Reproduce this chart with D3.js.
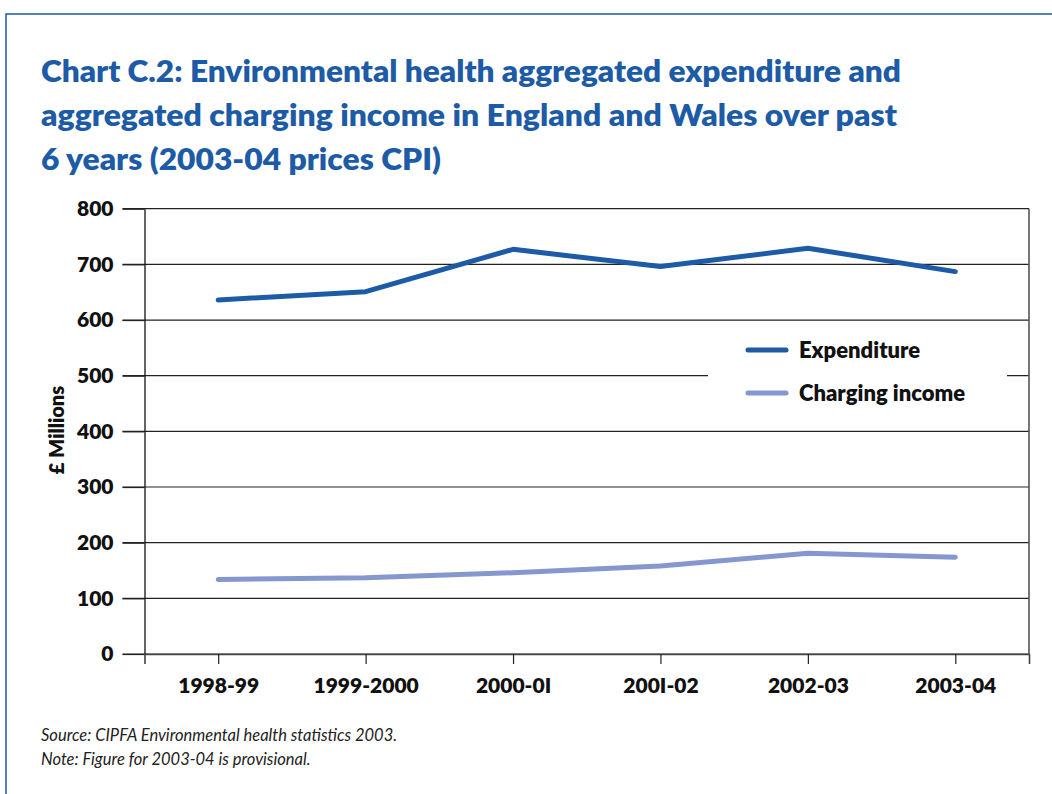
<!DOCTYPE html>
<html lang="en">
<head>
<meta charset="utf-8" />
<title>Chart C.2</title>
<style>
  body { margin: 0; background: #fff; }
  svg text { font-family: Lato, "Open Sans", sans-serif; }
</style>
</head>
<body>
<svg id="chart" width="1052" height="794"></svg>
<script src="https://cdn.jsdelivr.net/npm/d3@7/dist/d3.min.js"></script>
<script>
// Data
var years = ["1998-99", "1999-2000", "2000-01", "2001-02", "2002-03", "2003-04"];
var yearLabels = ["1998-99", "1999-2000", "2000-0I", "200I-02", "2002-03", "2003-04"];
var expenditure = [636, 651, 727, 696, 729, 687];
var chargingIncome = [134, 137, 146, 158, 181, 174];
var yTicks = [0, 100, 200, 300, 400, 500, 600, 700, 800];
var seriesNames = ["Expenditure", "Charging income"];

var titleLines = [
  "Chart C.2: Environmental health aggregated expenditure and",
  "aggregated charging income in England and Wales over past",
  "6 years (2003-04 prices CPI)"
];
var titleWidths = [860, 856, 400];
var notes = [
  "Source: CIPFA Environmental health statistics 2003.",
  "Note: Figure for 2003-04 is provisional."
];

var blue = "#1d5ba6", lightBlue = "#8497cf";

var svg = d3.select("#chart");

// outer frame (top and left edges)
svg.append("path")
  .attr("d", "M6,794 V14 H1052")
  .attr("fill", "none")
  .attr("stroke", blue)
  .attr("stroke-width", 1.5);

// title
svg.selectAll("text.title")
  .data(titleLines)
  .enter().append("text")
  .attr("class", "title")
  .attr("x", 41)
  .attr("y", function(d, i) { return 82 + i * 44; })
  .attr("fill", blue)
  .attr("font-size", 30)
  .attr("font-weight", 800)
  .text(function(d) { return d; })
  .each(function(d, i) {
    var w = this.getComputedTextLength();
    if (Math.abs(w - titleWidths[i]) > 4) {
      d3.select(this).attr("textLength", titleWidths[i]).attr("lengthAdjust", "spacingAndGlyphs");
    }
  });

var plotLeft = 144.5, plotRight = 1029, plotTop = 208.7, plotBottom = 654;

var x = d3.scalePoint().domain(years).range([plotLeft, plotRight]).padding(0.5);
var y = d3.scaleLinear().domain([0, 800]).range([plotBottom, plotTop]);

// gridlines
svg.append("g")
  .selectAll("line")
  .data(yTicks)
  .enter().append("line")
  .attr("x1", plotLeft - 22)
  .attr("x2", plotRight)
  .attr("y1", function(d) { return y(d); })
  .attr("y2", function(d) { return y(d); })
  .attr("stroke", "#222")
  .attr("stroke-width", 1.2);

// right edge of plot
svg.append("line")
  .attr("x1", plotRight).attr("x2", plotRight)
  .attr("y1", plotTop).attr("y2", plotBottom)
  .attr("stroke", "#555").attr("stroke-width", 1.6);

// y axis
var yAxis = svg.append("g")
  .attr("transform", "translate(" + plotLeft + ",0)")
  .call(d3.axisLeft(y).tickValues(yTicks).tickSize(22).tickPadding(9).tickSizeOuter(0));
yAxis.selectAll("line").attr("stroke", "#222").attr("stroke-width", 1.2);
yAxis.select(".domain").attr("stroke", "#111").attr("stroke-width", 1.3);
yAxis.selectAll("text")
  .attr("font-size", 21).attr("font-weight", 800).attr("fill", "#111")
  .style("font-family", "Lato, sans-serif");

// x axis
var xAxis = svg.append("g")
  .attr("transform", "translate(0," + plotBottom + ")")
  .call(d3.axisBottom(x).tickSize(10).tickSizeOuter(10).tickPadding(14)
    .tickFormat(function(d, i) { return yearLabels[i]; }));
xAxis.selectAll("line").attr("stroke", "#222").attr("stroke-width", 1.2);
xAxis.select(".domain").attr("stroke", "#444").attr("stroke-width", 1.6);
xAxis.selectAll("text")
  .attr("font-size", 21).attr("font-weight", 800).attr("fill", "#111")
  .style("font-family", "Lato, sans-serif");

// y axis title
svg.append("text")
  .attr("transform", "translate(64,430) rotate(-90)")
  .attr("text-anchor", "middle")
  .attr("font-size", 20)
  .attr("font-weight", 800)
  .attr("fill", "#111")
  .text("£ Millions");

// lines
var line = d3.line()
  .x(function(d, i) { return x(years[i]); })
  .y(function(d) { return y(d); });

svg.append("path")
  .datum(chargingIncome)
  .attr("d", line)
  .attr("fill", "none")
  .attr("stroke", lightBlue)
  .attr("stroke-width", 5)
  .attr("stroke-linecap", "round")
  .attr("stroke-linejoin", "round");

svg.append("path")
  .datum(expenditure)
  .attr("d", line)
  .attr("fill", "none")
  .attr("stroke", blue)
  .attr("stroke-width", 5)
  .attr("stroke-linecap", "round")
  .attr("stroke-linejoin", "round");

// legend
var legend = svg.append("g");
legend.append("rect")
  .attr("x", 708).attr("y", 326).attr("width", 299).attr("height", 100)
  .attr("fill", "#fff");
var items = legend.selectAll("g.item")
  .data(seriesNames)
  .enter().append("g")
  .attr("class", "item")
  .attr("transform", function(d, i) { return "translate(0," + (350 + i * 43) + ")"; });
items.append("line")
  .attr("x1", 748).attr("x2", 786)
  .attr("stroke", function(d, i) { return i === 0 ? blue : lightBlue; })
  .attr("stroke-width", 5)
  .attr("stroke-linecap", "round");
items.append("text")
  .attr("x", 799).attr("y", 8)
  .attr("font-size", 22)
  .attr("font-weight", 800)
  .attr("fill", "#111")
  .text(function(d) { return d; });

// notes
svg.selectAll("text.note")
  .data(notes)
  .enter().append("text")
  .attr("class", "note")
  .attr("x", 41)
  .attr("y", function(d, i) { return 741 + i * 24; })
  .attr("font-size", 16.5)
  .attr("font-style", "italic")
  .attr("fill", "#222")
  .text(function(d) { return d; });
</script>
</body>
</html>
